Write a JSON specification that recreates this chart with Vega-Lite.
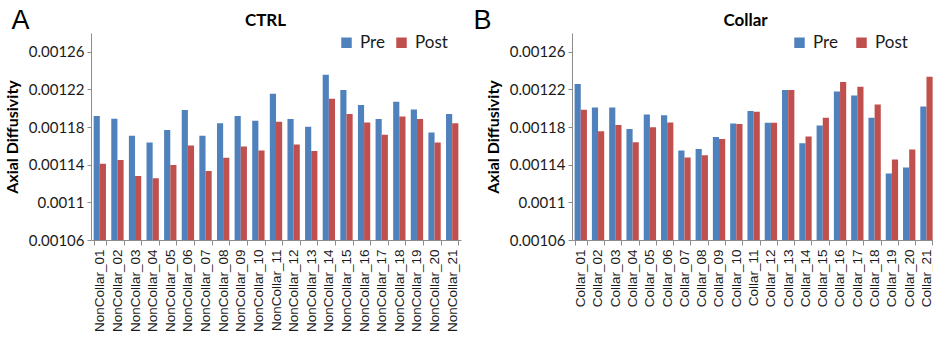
{
  "$schema": "https://vega.github.io/schema/vega-lite/v6.json",
  "padding": {"left": 4, "top": 6, "right": 2, "bottom": 0},
  "background": "white",
  "config": {
    "view": {"stroke": null},
    "font": "Lato",
    "axis": {"labelColor": "#1a1a1a", "domainColor": "#8c8c8c", "tickColor": "#8c8c8c", "grid": false}
  },
  "spacing": 12,
  "resolve": {"legend": {"color": "independent"}},
  "datasets": {
    "ctrl": [
      {"subject": "NonCollar_01", "series": "Pre", "value": 0.0011917},
      {"subject": "NonCollar_01", "series": "Post", "value": 0.0011411},
      {"subject": "NonCollar_02", "series": "Pre", "value": 0.0011888},
      {"subject": "NonCollar_02", "series": "Post", "value": 0.001145},
      {"subject": "NonCollar_03", "series": "Pre", "value": 0.0011708},
      {"subject": "NonCollar_03", "series": "Post", "value": 0.001128},
      {"subject": "NonCollar_04", "series": "Pre", "value": 0.0011637},
      {"subject": "NonCollar_04", "series": "Post", "value": 0.0011255},
      {"subject": "NonCollar_05", "series": "Pre", "value": 0.0011768},
      {"subject": "NonCollar_05", "series": "Post", "value": 0.0011396},
      {"subject": "NonCollar_06", "series": "Pre", "value": 0.0011981},
      {"subject": "NonCollar_06", "series": "Post", "value": 0.0011605},
      {"subject": "NonCollar_07", "series": "Pre", "value": 0.0011708},
      {"subject": "NonCollar_07", "series": "Post", "value": 0.0011333},
      {"subject": "NonCollar_08", "series": "Pre", "value": 0.0011842},
      {"subject": "NonCollar_08", "series": "Post", "value": 0.0011474},
      {"subject": "NonCollar_09", "series": "Pre", "value": 0.0011917},
      {"subject": "NonCollar_09", "series": "Post", "value": 0.0011595},
      {"subject": "NonCollar_10", "series": "Pre", "value": 0.0011867},
      {"subject": "NonCollar_10", "series": "Post", "value": 0.0011552},
      {"subject": "NonCollar_11", "series": "Pre", "value": 0.0012154},
      {"subject": "NonCollar_11", "series": "Post", "value": 0.0011857},
      {"subject": "NonCollar_12", "series": "Pre", "value": 0.0011885},
      {"subject": "NonCollar_12", "series": "Post", "value": 0.0011616},
      {"subject": "NonCollar_13", "series": "Pre", "value": 0.0011804},
      {"subject": "NonCollar_13", "series": "Post", "value": 0.0011545},
      {"subject": "NonCollar_14", "series": "Pre", "value": 0.0012356},
      {"subject": "NonCollar_14", "series": "Post", "value": 0.0012101},
      {"subject": "NonCollar_15", "series": "Pre", "value": 0.0012193},
      {"subject": "NonCollar_15", "series": "Post", "value": 0.0011938},
      {"subject": "NonCollar_16", "series": "Pre", "value": 0.0012034},
      {"subject": "NonCollar_16", "series": "Post", "value": 0.001185},
      {"subject": "NonCollar_17", "series": "Pre", "value": 0.0011885},
      {"subject": "NonCollar_17", "series": "Post", "value": 0.0011719},
      {"subject": "NonCollar_18", "series": "Pre", "value": 0.0012069},
      {"subject": "NonCollar_18", "series": "Post", "value": 0.0011913},
      {"subject": "NonCollar_19", "series": "Pre", "value": 0.0011988},
      {"subject": "NonCollar_19", "series": "Post", "value": 0.0011885},
      {"subject": "NonCollar_20", "series": "Pre", "value": 0.0011743},
      {"subject": "NonCollar_20", "series": "Post", "value": 0.0011637},
      {"subject": "NonCollar_21", "series": "Pre", "value": 0.0011938},
      {"subject": "NonCollar_21", "series": "Post", "value": 0.0011842}
    ],
    "collar": [
      {"subject": "Collar_01", "series": "Pre", "value": 0.0012258},
      {"subject": "Collar_01", "series": "Post", "value": 0.0011984},
      {"subject": "Collar_02", "series": "Pre", "value": 0.0012008},
      {"subject": "Collar_02", "series": "Post", "value": 0.0011755},
      {"subject": "Collar_03", "series": "Pre", "value": 0.0012008},
      {"subject": "Collar_03", "series": "Post", "value": 0.0011822},
      {"subject": "Collar_04", "series": "Pre", "value": 0.001178},
      {"subject": "Collar_04", "series": "Post", "value": 0.0011639},
      {"subject": "Collar_05", "series": "Pre", "value": 0.0011935},
      {"subject": "Collar_05", "series": "Post", "value": 0.0011797},
      {"subject": "Collar_06", "series": "Pre", "value": 0.0011927},
      {"subject": "Collar_06", "series": "Post", "value": 0.001185},
      {"subject": "Collar_07", "series": "Pre", "value": 0.0011552},
      {"subject": "Collar_07", "series": "Post", "value": 0.0011478},
      {"subject": "Collar_08", "series": "Pre", "value": 0.0011568},
      {"subject": "Collar_08", "series": "Post", "value": 0.0011501},
      {"subject": "Collar_09", "series": "Pre", "value": 0.0011695},
      {"subject": "Collar_09", "series": "Post", "value": 0.0011674},
      {"subject": "Collar_10", "series": "Pre", "value": 0.0011839},
      {"subject": "Collar_10", "series": "Post", "value": 0.0011832},
      {"subject": "Collar_11", "series": "Pre", "value": 0.001197},
      {"subject": "Collar_11", "series": "Post", "value": 0.0011963},
      {"subject": "Collar_12", "series": "Pre", "value": 0.0011846},
      {"subject": "Collar_12", "series": "Post", "value": 0.0011846},
      {"subject": "Collar_13", "series": "Pre", "value": 0.0012195},
      {"subject": "Collar_13", "series": "Post", "value": 0.0012195},
      {"subject": "Collar_14", "series": "Pre", "value": 0.0011628},
      {"subject": "Collar_14", "series": "Post", "value": 0.00117},
      {"subject": "Collar_15", "series": "Pre", "value": 0.0011818},
      {"subject": "Collar_15", "series": "Post", "value": 0.00119},
      {"subject": "Collar_16", "series": "Pre", "value": 0.0012177},
      {"subject": "Collar_16", "series": "Post", "value": 0.001228},
      {"subject": "Collar_17", "series": "Pre", "value": 0.0012135},
      {"subject": "Collar_17", "series": "Post", "value": 0.001223},
      {"subject": "Collar_18", "series": "Pre", "value": 0.00119},
      {"subject": "Collar_18", "series": "Post", "value": 0.001204},
      {"subject": "Collar_19", "series": "Pre", "value": 0.0011307},
      {"subject": "Collar_19", "series": "Post", "value": 0.0011456},
      {"subject": "Collar_20", "series": "Pre", "value": 0.0011371},
      {"subject": "Collar_20", "series": "Post", "value": 0.0011563},
      {"subject": "Collar_21", "series": "Pre", "value": 0.001202},
      {"subject": "Collar_21", "series": "Post", "value": 0.0012336}
    ]
  },
  "hconcat": [
    {
      "width": 370,
      "height": 207,
      "data": {"name": "ctrl"},
      "resolve": {"axis": {"x": "independent"}},
      "layer": [
        {
          "mark": {"type": "bar", "clip": true},
          "encoding": {
            "x": {"field": "subject", "type": "nominal", "sort": null,
              "scale": {"paddingInner": 0.3, "paddingOuter": 0.15},
              "axis": {"orient": "bottom", "title": null, "labelAngle": -90, "labelFont": "Liberation Sans", "labelFontSize": 13.5, "tickBand": "extent", "tickSize": 5, "labelPadding": 4}},
            "xOffset": {"field": "series", "type": "nominal", "sort": ["Pre", "Post"]},
            "y": {"field": "value", "type": "quantitative",
              "scale": {"domain": [0.00106, 0.00128], "zero": false, "nice": false},
              "axis": {"title": "Axial Diffusivity", "titleFont": "Lato", "titleFontSize": 16, "titleFontWeight": "bold", "titleColor": "#000", "titlePadding": 8,
                "values": [0.00106, 0.0011, 0.00114, 0.00118, 0.00122, 0.00126], "format": ".5~f", "labelFontSize": 15, "tickSize": 4, "labelPadding": 3}},
            "color": {"field": "series", "type": "nominal",
              "scale": {"domain": ["Pre", "Post"], "range": ["#4F81BD", "#C0504D"]},
              "legend": {"orient": "none", "legendX": 247, "legendY": 1, "padding": 0, "direction": "horizontal", "title": null, "symbolType": "square", "symbolSize": 110, "labelFontSize": 17, "labelFont": "Lato", "labelColor": "#1a1a1a", "columnPadding": 8, "labelOffset": 5}}
          }
        },
        {
          "mark": {"type": "rule", "opacity": 0},
          "encoding": {
            "x": {"field": "subject", "type": "nominal", "sort": null,
              "axis": {"orient": "top", "title": "CTRL", "labels": false, "ticks": false, "domain": false, "titleFont": "Lato", "titleFontSize": 17, "titleFontWeight": "bold", "titleColor": "#000", "titleX": 174, "titleY": -8, "titleAlign": "center", "titleBaseline": "alphabetic"}}
          }
        },
        {
          "mark": {"type": "rule", "opacity": 0},
          "encoding": {
            "x": {"field": "subject", "type": "nominal", "sort": null,
              "axis": {"orient": "top", "title": "A", "labels": false, "ticks": false, "domain": false, "titleFont": "Liberation Sans", "titleFontSize": 27, "titleFontWeight": "normal", "titleColor": "#000", "titleX": -80, "titleY": -5, "titleAlign": "left", "titleBaseline": "alphabetic"}}
          }
        }
      ]
    },
    {
      "width": 363,
      "height": 207,
      "data": {"name": "collar"},
      "resolve": {"axis": {"x": "independent"}},
      "layer": [
        {
          "mark": {"type": "bar", "clip": true},
          "encoding": {
            "x": {"field": "subject", "type": "nominal", "sort": null,
              "scale": {"paddingInner": 0.3, "paddingOuter": 0.15},
              "axis": {"orient": "bottom", "title": null, "labelAngle": -90, "labelFont": "Liberation Sans", "labelFontSize": 13.5, "tickBand": "extent", "tickSize": 5, "labelPadding": 4}},
            "xOffset": {"field": "series", "type": "nominal", "sort": ["Pre", "Post"]},
            "y": {"field": "value", "type": "quantitative",
              "scale": {"domain": [0.00106, 0.00128], "zero": false, "nice": false},
              "axis": {"title": "Axial Diffusivity", "titleFont": "Lato", "titleFontSize": 16, "titleFontWeight": "bold", "titleColor": "#000", "titlePadding": 8,
                "values": [0.00106, 0.0011, 0.00114, 0.00118, 0.00122, 0.00126], "format": ".5~f", "labelFontSize": 15, "tickSize": 4, "labelPadding": 3}},
            "color": {"field": "series", "type": "nominal",
              "scale": {"domain": ["Pre", "Post"], "range": ["#4F81BD", "#C0504D"]},
              "legend": {"orient": "none", "legendX": 219, "legendY": 1, "padding": 0, "direction": "horizontal", "title": null, "symbolType": "square", "symbolSize": 110, "labelFontSize": 17, "labelFont": "Lato", "labelColor": "#1a1a1a", "columnPadding": 15, "labelOffset": 5}}
          }
        },
        {
          "mark": {"type": "rule", "opacity": 0},
          "encoding": {
            "x": {"field": "subject", "type": "nominal", "sort": null,
              "axis": {"orient": "top", "title": "Collar", "labels": false, "ticks": false, "domain": false, "titleFont": "Lato", "titleFontSize": 17, "titleFontWeight": "bold", "titleColor": "#000", "titleX": 173, "titleY": -8, "titleAlign": "center", "titleBaseline": "alphabetic"}}
          }
        },
        {
          "mark": {"type": "rule", "opacity": 0},
          "encoding": {
            "x": {"field": "subject", "type": "nominal", "sort": null,
              "axis": {"orient": "top", "title": "B", "labels": false, "ticks": false, "domain": false, "titleFont": "Liberation Sans", "titleFontSize": 27, "titleFontWeight": "normal", "titleColor": "#000", "titleX": -99, "titleY": -5, "titleAlign": "left", "titleBaseline": "alphabetic"}}
          }
        }
      ]
    }
  ]
}
